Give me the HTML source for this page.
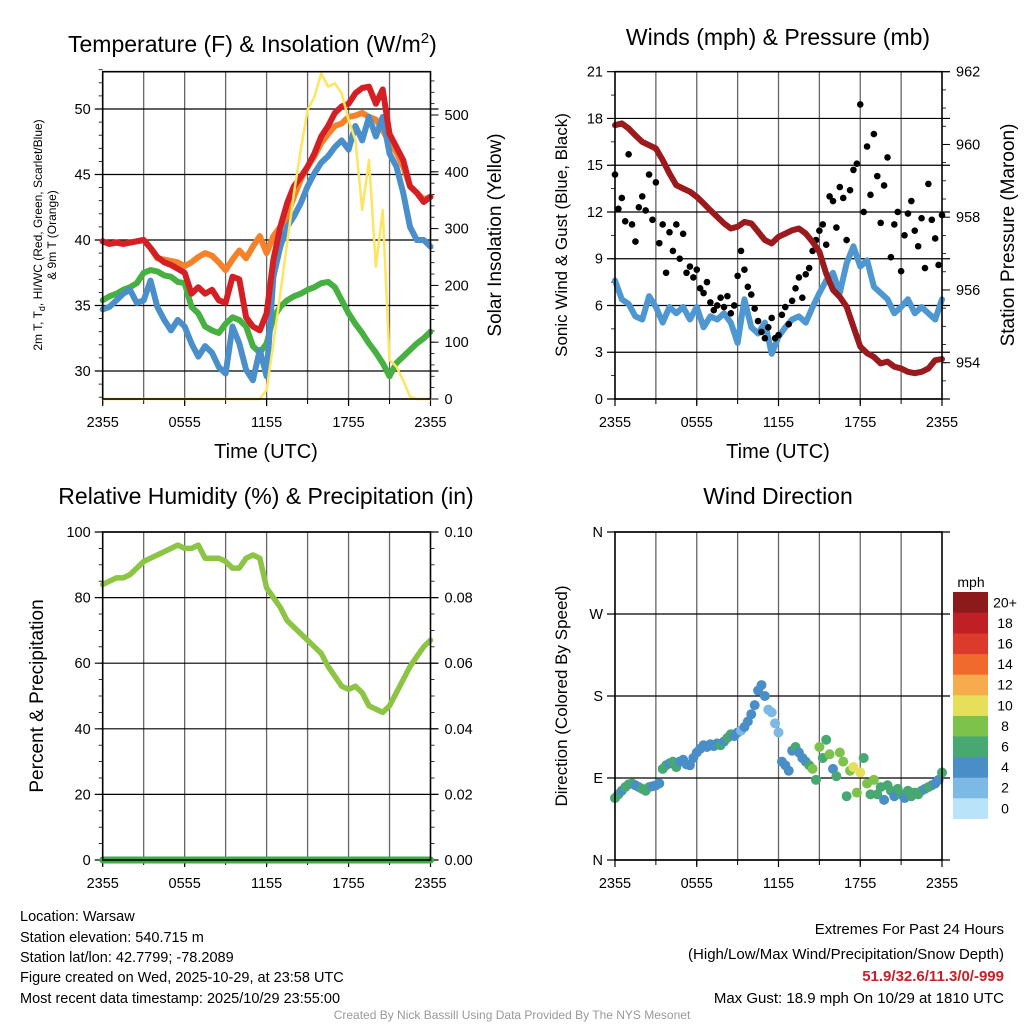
<!DOCTYPE html>
<html><head><meta charset="utf-8"><style>
html,body{margin:0;padding:0;background:#fff}
svg text{font-family:"Liberation Sans",Arial,sans-serif}
</style></head><body>
<svg id="c" width="1024" height="1024" viewBox="0 0 1024 1024" xmlns="http://www.w3.org/2000/svg">
<g id="g"></g>
<text x="68" y="52" font-size="23">Temperature (F) &amp; Insolation (W/m<tspan dy="-9" font-size="15">2</tspan><tspan dy="9">)</tspan></text>
<text x="778" y="45" font-size="23" text-anchor="middle">Winds (mph) &amp; Pressure (mb)</text>
<text x="266" y="504" font-size="23" text-anchor="middle">Relative Humidity (%) &amp; Precipitation (in)</text>
<text x="778" y="504" font-size="23" text-anchor="middle">Wind Direction</text>
<text x="266" y="458" font-size="20" text-anchor="middle">Time (UTC)</text>
<text x="778" y="458" font-size="20" text-anchor="middle">Time (UTC)</text>
<text transform="translate(42,235) rotate(-90)" font-size="12" text-anchor="middle">2m T, T<tspan dy="3" font-size="9">d</tspan><tspan dy="-3">, HI/WC (Red, Green, Scarlet/Blue)</tspan></text>
<text transform="translate(56,235) rotate(-90)" font-size="12" text-anchor="middle">&amp; 9m T (Orange)</text>
<text transform="translate(501,235) rotate(-90)" font-size="19" text-anchor="middle">Solar Insolation (Yellow)</text>
<text transform="translate(567,235) rotate(-90)" font-size="17" text-anchor="middle">Sonic Wind &amp; Gust (Blue, Black)</text>
<text transform="translate(1014,235) rotate(-90)" font-size="19" text-anchor="middle">Station Pressure (Maroon)</text>
<text transform="translate(43,696) rotate(-90)" font-size="19" text-anchor="middle">Percent &amp; Precipitation</text>
<text transform="translate(567,696) rotate(-90)" font-size="17" text-anchor="middle">Direction (Colored By Speed)</text>
<text x="971" y="587" font-size="14" text-anchor="middle">mph</text>
<g font-size="14.5">
<text x="20" y="921">Location: Warsaw</text>
<text x="20" y="942">Station elevation: 540.715 m</text>
<text x="20" y="962">Station lat/lon: 42.7799; -78.2089</text>
<text x="20" y="982">Figure created on Wed, 2025-10-29, at 23:58 UTC</text>
<text x="20" y="1003">Most recent data timestamp: 2025/10/29 23:55:00</text>
</g>
<g font-size="15" text-anchor="end">
<text x="1004" y="934">Extremes For Past 24 Hours</text>
<text x="1004" y="959">(High/Low/Max Wind/Precipitation/Snow Depth)</text>
<text x="1004" y="981" fill="#c8202a" font-weight="bold">51.9/32.6/11.3/0/-999</text>
<text x="1004" y="1003">Max Gust: 18.9 mph On 10/29 at 1810 UTC</text>
</g>
<text x="512" y="1019" font-size="12" fill="#999" text-anchor="middle">Created By Nick Bassill Using Data Provided By The NYS Mesonet</text>
</svg>
<script>
// ---- Temperature panel data (half-hour steps, 0..24h) ----
const tempRed = [39.9,39.7,39.8,39.7,39.8,39.9,40.0,39.4,38.7,38.3,38.1,37.8,37.5,35.9,36.4,35.9,36.2,35.4,35.2,37.2,37.0,34.1,33.4,33.1,34.4,38.5,41.0,42.8,44.1,44.8,45.6,46.6,47.9,48.7,49.7,50.2,50.4,51.2,51.6,51.7,50.4,51.5,48.1,47.1,46.1,44.1,43.6,42.9,43.3];
const tempOrange = [39.9,39.7,39.8,39.7,39.8,39.9,40.0,39.4,38.6,38.5,38.4,38.3,38.0,38.3,38.7,39.0,38.8,38.3,37.7,38.5,39.2,38.6,39.5,40.3,39.0,40.3,41.0,41.8,43.3,44.6,45.6,46.4,47.4,48.1,48.7,48.9,49.4,49.5,49.7,49.4,49.2,48.4,47.4,46.7,45.6,44.1,43.6,43.1,43.3];
const tempBlue = [34.7,34.9,35.4,35.9,36.2,35.2,35.4,36.9,34.9,33.9,33.1,33.9,33.4,32.1,31.1,31.9,31.4,30.3,29.8,33.4,32.1,30.1,29.3,31.6,29.6,37.2,39.5,41.0,41.8,42.8,44.1,45.1,45.9,46.4,47.1,47.6,46.9,48.7,47.6,49.4,47.9,49.4,46.6,45.6,43.6,41.0,40.0,40.0,39.5];
const tempGreen = [35.4,35.7,35.9,36.2,36.4,36.7,37.5,37.7,37.6,37.3,37.2,36.8,36.7,34.9,34.4,33.4,33.1,32.9,33.6,34.1,33.9,33.4,31.9,31.4,32.1,34.1,34.9,35.4,35.7,35.9,36.2,36.4,36.7,36.8,36.4,35.4,34.4,33.6,32.9,32.1,31.4,30.6,29.6,30.6,31.1,31.6,32.1,32.5,33.0];
const solar = [0,0,0,0,0,0,0,0,0,0,0,0,0,0,0,0,0,0,0,0,0,0,0,0,16,98,186,274,362,438,509,532,573,550,556,538,491,456,333,421,233,333,69,57,33,4,0,0,0];
const tempTicks = [30,35,40,45,50];
const solarTicks = [0,100,200,300,400,500];
// ---- Wind panel data ----
const windSpeed = [7.6,6.4,6.1,5.3,5.1,6.6,5.9,4.9,5.9,5.5,5.9,5.1,5.9,4.6,5.3,5.1,5.5,4.9,3.6,6.4,4.6,4.2,4.9,2.9,4.0,4.6,5.1,5.3,4.9,5.9,6.8,7.6,8.1,6.8,8.7,9.8,8.5,8.9,7.2,6.8,6.4,5.5,5.9,6.4,5.5,5.9,5.5,5.1,6.4];
const gusts = [14.4,12.2,12.9,11.4,15.7,11.2,10.1,12.3,13.0,12.1,14.4,11.5,13.9,10.0,11.2,8.1,10.7,9.5,11.2,9.0,10.6,8.1,8.5,7.8,8.3,7.1,6.8,7.5,6.2,5.7,6.0,6.5,5.9,6.6,5.5,6.0,7.9,9.5,8.3,7.2,6.7,5.8,5.0,4.3,3.9,4.6,5.2,3.9,4.1,5.4,5.9,4.8,6.3,7.1,7.8,6.5,8.0,8.4,9.5,10.2,10.8,11.2,9.9,13.0,12.7,11.0,13.6,12.9,10.2,13.4,14.7,15.1,18.9,12.0,16.2,13.1,17.0,14.3,11.3,13.7,15.5,9.1,11.2,12.0,8.2,10.5,11.9,12.7,10.8,9.8,11.6,8.4,13.8,11.5,10.3,8.6,11.8];
const pressure = [960.53,960.58,960.44,960.25,960.07,959.98,959.89,959.57,959.2,958.88,958.79,958.70,958.56,958.38,958.19,958.01,957.83,957.69,957.74,957.87,957.83,957.6,957.37,957.28,957.46,957.55,957.64,957.69,957.55,957.32,957.05,956.45,956.0,955.81,955.54,954.99,954.44,954.26,954.16,953.98,954.03,953.89,953.84,953.75,953.71,953.75,953.84,954.07,954.1];
const windTicks = [0,3,6,9,12,15,18,21];
const presTicks = [954,956,958,960,962];
// ---- RH panel ----
const rh = [84,85,86,86,87,89,91,92,93,94,95,96,95,95,96,92,92,92,91,89,89,92,93,92,83,80,77,73,71,69,67,65,63,59,56,53,52,53,51,47,46,45,47,51,55,59,62,65,67];
const precip = [0,0,0,0,0,0,0,0,0,0,0,0,0,0,0,0,0,0,0,0,0,0,0,0,0,0,0,0,0,0,0,0,0,0,0,0,0,0,0,0,0,0,0,0,0,0,0,0,0];
const rhTicks = [0,20,40,60,80,100];
const precipTicks = ["0.00","0.02","0.04","0.06","0.08","0.10"];
// ---- Wind direction (quarter-hour) ----
const windDir = [68,72,76,80,83,84,82,80,78,76,80,81,82,84,100,104,106,108,102,108,110,105,104,112,118,122,126,124,127,125,128,126,130,134,138,136,140,142,146,152,160,170,186,192,180,165,162,150,140,108,104,98,120,124,118,112,108,104,100,88,124,112,132,116,100,92,118,108,70,98,102,74,96,112,84,72,88,72,80,66,82,76,70,78,72,68,76,70,74,72,76,78,80,82,84,88,96];
const dirSpeed = [7,6,5,6,7,6,5,4,6,7,6,5,5,4,6,7,5,6,7,5,4,5,4,5,5,4,5,4,5,4,4,6,5,7,7,4,5,3,5,4,4,5,5,4,4,3,2,3,3,5,4,5,4,6,5,4,5,6,8,7,9,7,6,8,5,7,9,8,7,9,11,8,10,7,9,6,8,7,6,4,7,6,5,7,6,5,6,7,6,7,6,5,7,6,4,5,6];
const dirLabels = ["N","E","S","W","N"];
const timeLabels = ["2355","0555","1155","1755","2355"];
const cbLabels = ["0","2","4","6","8","10","12","14","16","18","20+"];
const cbColors = ["#b8e3f8","#7cb9e4","#4a8ec8","#48a872","#7dc24b","#e5df5a","#f6ac4c","#ef6a2c","#dc3a2a","#bf1f25","#8d1a1b"];

const NS="http://www.w3.org/2000/svg";
const G=document.getElementById('g');
function el(tag,attrs,parent){const e=document.createElementNS(NS,tag);for(const k in attrs)e.setAttribute(k,attrs[k]);(parent||G).appendChild(e);return e;}
function lin(d0,d1,r0,r1){return v=>r0+(v-d0)*(r1-r0)/(d1-d0);}
function pathFrom(arr,xs,ys){const n=arr.length;let d='';arr.forEach((v,i)=>{d+=(i?'L':'M')+xs(i*24/(n-1)).toFixed(1)+','+ys(v).toFixed(1);});return d;}

function panel(name,L,R,T,B){
  const xs=lin(0,24,L,R);
  const g=el('g',{});
  
  
  for(let h=3;h<24;h+=3){el('line',{x1:xs(h),x2:xs(h),y1:T,y2:B,stroke:'#666','stroke-width':1.3},g);}
  timeLabels.forEach((t,i)=>{const x=xs(i*6);
    el('line',{x1:x,x2:x,y1:B,y2:B+7,stroke:'#000','stroke-width':1.2},g);
    const tx=el('text',{x:x,y:B+28,'font-size':14.5,'text-anchor':'middle'},g);tx.textContent=t;
    
    });
  for(let h=0;h<=24;h+=3){const x=xs(h);el('line',{x1:x,x2:x,y1:B,y2:B+5,stroke:'#000','stroke-width':1},g);}
  return {xs,g};
}
function hgrid(g,L,R,y){el('line',{x1:L-8,x2:R+8,y1:y,y2:y,stroke:'#000','stroke-width':1.2},g);}
function frame(L,R,T,B){el('rect',{x:L,y:T,width:R-L,height:B-T,fill:'none',stroke:'#000','stroke-width':1.6});}
function leftLabel(x,y,t,nm){const tx=el('text',{x:x,y:y+5,'font-size':14.5,'text-anchor':'end'});tx.textContent=t;}
function rightLabel(x,y,t,nm){const tx=el('text',{x:x,y:y+5,'font-size':14.5,'text-anchor':'start'});tx.textContent=t;}
function line(d,color,w,nm){const p=el('path',{d:d,fill:'none',stroke:color,'stroke-width':w,'stroke-linejoin':'round','stroke-linecap':'round'});return p;}

// Panel 1: temperature
(function(){
  const L=102.7,R=430.5,T=71.7,B=399;
  const {xs,g}=panel('temperature',L,R,T,B);
  const yT=lin(30,50,371,109), yS=lin(0,500,399,115);
  tempTicks.forEach(v=>{hgrid(g,L,R,yT(v));leftLabel(L-12,yT(v),String(v),'temp-y-tick');});
  solarTicks.forEach(v=>{el('line',{x1:R,x2:R+8,y1:yS(v),y2:yS(v),stroke:'#000'});rightLabel(R+14,yS(v),String(v),'solar-y-tick');});
  for(let v=0;v<=575;v+=20){el('line',{x1:R,x2:R+4,y1:yS(v),y2:yS(v),stroke:'#000','stroke-width':0.8});}
  for(let v=28;v<=53;v+=1){el('line',{x1:L-4,x2:L,y1:yT(v),y2:yT(v),stroke:'#000','stroke-width':0.8});}
  line(pathFrom(tempOrange,xs,yT),'#f5822a',6,'9m-temp-line');
  line(pathFrom(tempGreen,xs,yT),'#46b041',6,'dewpoint-line');
  line(pathFrom(tempBlue,xs,yT),'#4a8fc9',6,'windchill-line');
  line(pathFrom(tempRed,xs,yT),'#d42025',6,'temperature-line');
  line(pathFrom(solar,xs,yS),'#fde560',2.5,'solar-line');
  frame(L,R,T,B);
})();
// Panel 2: winds
(function(){
  const L=615,R=942,T=71.7,B=399;
  const {xs,g}=panel('winds',L,R,T,B);
  const yW=lin(0,21,399,71.7), yP=lin(954,962,362.7,71.7);
  windTicks.forEach(v=>{hgrid(g,L,R,yW(v));leftLabel(L-12,yW(v),String(v),'wind-y-tick');});
  for(let v=0;v<=21;v+=1.5){el('line',{x1:L-4,x2:L,y1:yW(v),y2:yW(v),stroke:'#000','stroke-width':0.8});}
  presTicks.forEach(v=>{el('line',{x1:R,x2:R+8,y1:yP(v),y2:yP(v),stroke:'#000'});rightLabel(R+14,yP(v),String(v),'pressure-y-tick');});
  for(let v=953;v<=962;v+=0.5){el('line',{x1:R,x2:R+4,y1:yP(v),y2:yP(v),stroke:'#000','stroke-width':0.8});}
  line(pathFrom(windSpeed,xs,yW),'#4f97d0',6,'wind-speed-line');
  gusts.forEach((v,i)=>{const c=el('circle',{cx:xs(i*24/(gusts.length-1)),cy:yW(v),r:3.3,fill:'#000'});
    
    });
  line(pathFrom(pressure,xs,yP),'#9a1a1d',6,'pressure-line');
  frame(L,R,T,B);
})();
// Panel 3: RH
(function(){
  const L=102.7,R=430.5,T=532,B=860;
  const {xs,g}=panel('humidity',L,R,T,B);
  const yR=lin(0,100,860,532);
  rhTicks.forEach((v,i)=>{hgrid(g,L,R,yR(v));leftLabel(L-12,yR(v),String(v),'rh-y-tick');
    el('line',{x1:R,x2:R+8,y1:yR(v),y2:yR(v),stroke:'#000'});rightLabel(R+14,yR(v),precipTicks[i],'precip-y-tick');});
  for(let v=0;v<=100;v+=5){el('line',{x1:L-4,x2:L,y1:yR(v),y2:yR(v),stroke:'#000','stroke-width':0.8});el('line',{x1:R,x2:R+4,y1:yR(v),y2:yR(v),stroke:'#000','stroke-width':0.8});}
  line(pathFrom(rh,xs,yR),'#8cc443',5.5,'rh-line');
  line(pathFrom(precip.map(v=>v*1000),xs,yR),'#3faa48',7,'precip-line');
  frame(L,R,T,B);
})();
// Panel 4: wind direction
(function(){
  const L=615,R=942,T=532,B=860;
  const {xs,g}=panel('wind-direction',L,R,T,B);
  const yD=lin(0,360,860,532);
  dirLabels.forEach((t,i)=>{hgrid(g,L,R,yD(i*90));leftLabel(L-12,yD(i*90),t,'direction-y-tick');});
  windDir.forEach((v,i)=>{const ci=Math.min(10,Math.floor(dirSpeed[i]/2));
    const c=el('circle',{cx:xs(i*24/(windDir.length-1)),cy:yD(v),r:5,fill:cbColors[ci]});
    
    });
  frame(L,R,T,B);
  const cbT=592,cbH=20.6;
  cbLabels.forEach((t,i)=>{const y=cbT+(10-i)*cbH;
    const r=el('rect',{x:953,y:y,width:35,height:cbH+0.3,fill:cbColors[i]});
    
    
    const tx=el('text',{x:1005,y:y+cbH/2+5,'font-size':14,'text-anchor':'middle'});tx.textContent=t;
    
    });
})();
</script>
</body></html>
